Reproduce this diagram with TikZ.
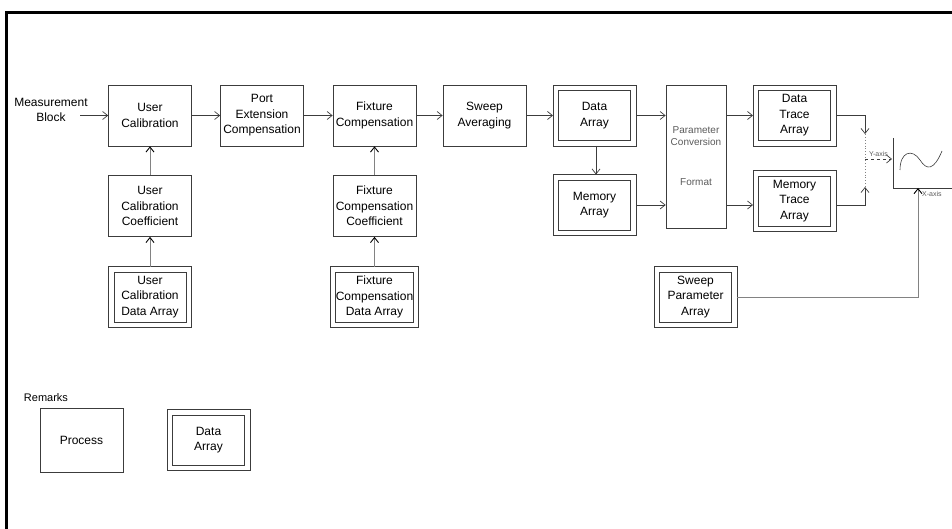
\documentclass[tikz,border=0pt]{standalone}
\usepackage{fontspec}
\setmainfont{Liberation Sans}
\usepackage{tikz}
\usetikzlibrary{positioning,arrows.meta}
\definecolor{cLine}{RGB}{60,60,60}
\definecolor{cSoft}{RGB}{130,130,130}
\definecolor{cNote}{RGB}{90,90,90}
\tikzset{
  txt/.style={font=\fontsize{12}{15.5}\selectfont,align=center,inner sep=0pt},
  proc/.style={txt,draw=cLine,line width=0.7pt,minimum width=83pt,minimum height=61pt},
  darr/.style={txt,draw=cLine,line width=0.7pt,minimum width=72pt,minimum height=50pt,
    outer sep=5.5pt},
  frame/.style={draw=cLine,line width=0.7pt},
  flow/.style={draw=cLine,line width=0.7pt,-{Straight Barb[length=5pt,width=8pt]}},
  feed/.style={draw=cSoft,line width=0.9pt,-{Straight Barb[length=5pt,width=8pt,color=black]}},
  axlbl/.style={font=\fontsize{7}{8}\selectfont,text=cNote,inner sep=1pt}
}
\begin{document}
\begin{tikzpicture}[x=1pt,y=-1pt]
  \useasboundingbox (0,0) rectangle (952,529);
  % frame
  \draw[line width=3pt] (6,529) -- (6,13) -- (952,13);
  % main chain
  \node[txt] (meas) at (51,110) {Measurement\\Block};
  \node[proc] (uc)  at (150,115.5) {User\\Calibration};
  \node[proc] (pec) at (262,115.5) {Port\\Extension\\Compensation};
  \node[proc] (fc)  at (374.5,115.5) {Fixture\\Compensation};
  \node[proc] (swp) at (484.5,115.5) {Sweep\\Averaging};
  \node[darr] (da)  at (594.5,115.5) {Data\\Array};
  \node[darr] (ma)  at (594.5,205) {Memory\\Array};
  \node[draw=cLine,line width=0.7pt,minimum width=60pt,minimum height=143pt,
        align=center,text=cNote,font=\fontsize{10}{12}\selectfont,inner sep=0pt]
        (pcf) at (696,156.5) {Parameter\\Conversion\\[28pt]Format};
  \node[darr] (dta) at (794.5,115.5) {Data\\Trace\\Array};
  \node[darr] (mta) at (794.5,201) {Memory\\Trace\\Array};
  \node[darr] (spa) at (695.5,297) {Sweep\\Parameter\\Array};
  % calibration inputs
  \node[proc] (ucc)  at (150,206) {User\\Calibration\\Coefficient};
  \node[darr] (ucda) at (150,297) {User\\Calibration\\Data Array};
  \node[proc] (fcc)  at (374.5,206) {Fixture\\Compensation\\Coefficient};
  \node[darr] (fcda) at (374.5,297) {Fixture\\Compensation\\Data Array};
  % remarks
  \node[txt,font=\fontsize{11}{13}\selectfont] (rem) at (46,398) {Remarks};
  \node[proc,minimum height=64pt] (legp) at (81.5,440) {Process};
  \node[darr] (legda) at (208.5,440) {Data\\Array};
  % outer frames of the arrays
  \foreach \n in {da,ma,dta,mta,spa,ucda,fcda,legda}
    \draw[frame] (\n.north west) rectangle (\n.south east);
  % connectors
  \coordinate (min) at (80,115.5);
  \draw[flow] (min) -- (uc);
  \foreach \a/\b in {uc/pec,pec/fc,fc/swp,swp/da,da/pcf}
    \draw[flow] (\a.east) -- (\a.east -| \b.west);
  \draw[flow] (da.south -| 596,0) -- (ma.north -| 596,0);
  \draw[flow] (ma.east) -- (ma.east -| pcf.west);
  \draw[flow] (pcf.east |- dta.west) -- (dta.west);
  \draw[flow] (pcf.east |- ma.east) -- (mta.west |- ma.east);
  \foreach \a/\b in {ucc/uc,ucda/ucc,fcc/fc,fcda/fcc}
    \draw[feed] (\a.north) -- (\b.south);
  % display
  \coordinate (ytop) at (865,134);
  \coordinate (ybot) at (865,187);
  \coordinate (ymid) at (865,159);
  \coordinate (yax)  at (892,159);
  \coordinate (xax)  at (918,188);
  \draw[flow] (dta.east) -| (ytop);
  \draw[flow] (mta.east |- ma.east) -| (ybot);
  \draw[cSoft,line width=0.9pt,dotted] (ytop) -- (ybot);
  \draw[flow,dashed] (ymid) -- (yax) node[axlbl,midway,above=1pt] (ylbl) {Y-axis};
  \draw[cLine,line width=0.8pt] (893,138) -- (893,188) -- (952,188);
  \draw[cLine,line width=0.6pt] (900,170) .. controls (900,152) and (912,148) .. (920,160)
    .. controls (927,171) and (934,170) .. (942,151);
  \draw[feed] (spa.east) -| (xax);
  \node[axlbl,anchor=west] (xlbl) at (921,194) {X-axis};
\end{tikzpicture}
\end{document}
